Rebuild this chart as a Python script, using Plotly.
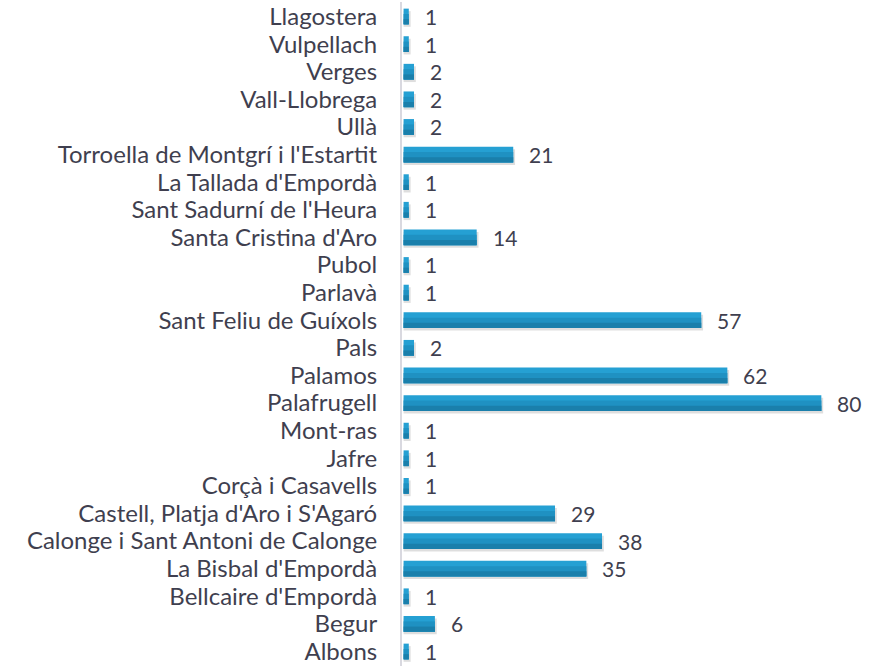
import plotly.graph_objects as go

categories = ["Albons", "Begur", "Bellcaire d'Empordà", "La Bisbal d'Empordà",
              "Calonge i Sant Antoni de Calonge", "Castell, Platja d'Aro i S'Agaró",
              "Corçà i Casavells", "Jafre", "Mont-ras", "Palafrugell", "Palamos", "Pals",
              "Sant Feliu de Guíxols", "Parlavà", "Pubol", "Santa Cristina d'Aro",
              "Sant Sadurní de l'Heura", "La Tallada d'Empordà",
              "Torroella de Montgrí i l'Estartit", "Ullà", "Vall-Llobrega", "Verges",
              "Vulpellach", "Llagostera"]
values = [1, 6, 1, 35, 38, 29, 1, 1, 1, 80, 62, 2, 57, 1, 1, 14, 1, 1, 21, 2, 2, 2, 1, 1]

FONT = "Lato"
TXT = "#3f3f4f"
W = 0.57          # bar thickness (category units)
OFF = -W / 2

fig = go.Figure()
# soft shadow
fig.add_trace(go.Bar(
    x=[v + 0.35 for v in values], y=categories, orientation="h",
    width=W, offset=OFF - 0.09,
    marker=dict(color="rgba(0,0,0,0.13)", line=dict(width=0)),
    hoverinfo="skip",
))
# main bar (light top tone)
fig.add_trace(go.Bar(
    x=values, y=categories, orientation="h",
    width=W, offset=OFF,
    marker=dict(color="#25a0d3", line=dict(width=0)),
    hoverinfo="x+y",
))
# gradient bands toward the darker bottom
fig.add_trace(go.Bar(
    x=values, y=categories, orientation="h",
    width=W * 0.66, offset=OFF,
    marker=dict(color="#1f91c2", line=dict(width=0)),
    hoverinfo="skip",
))
fig.add_trace(go.Bar(
    x=values, y=categories, orientation="h",
    width=W * 0.33, offset=OFF,
    marker=dict(color="#1a7fab", line=dict(width=0)),
    hoverinfo="skip",
))

for c, v in zip(categories, values):
    fig.add_annotation(x=v, y=c, text=str(v), showarrow=False,
                       xanchor="left", xshift=14,
                       font=dict(family=FONT, size=21, color=TXT))

fig.update_layout(
    width=886, height=666,
    margin=dict(l=402, r=14, t=2, b=0),
    paper_bgcolor="white", plot_bgcolor="white",
    barmode="overlay", showlegend=False,
    font=dict(family=FONT, size=24, color=TXT),
)
fig.update_xaxes(range=[-0.3, 89.7], visible=False)
fig.update_yaxes(showline=True, linecolor="#d9d9e0", linewidth=2,
                 showgrid=False, ticks="", ticklabelstandoff=18,
                 tickmode="array", tickvals=categories, ticktext=categories,
                 tickfont=dict(family=FONT, size=24, color=TXT),
                 automargin=False)

fig.write_html("out.html", config={"displayModeBar": False},
               post_script="document.body.style.margin='0';")
